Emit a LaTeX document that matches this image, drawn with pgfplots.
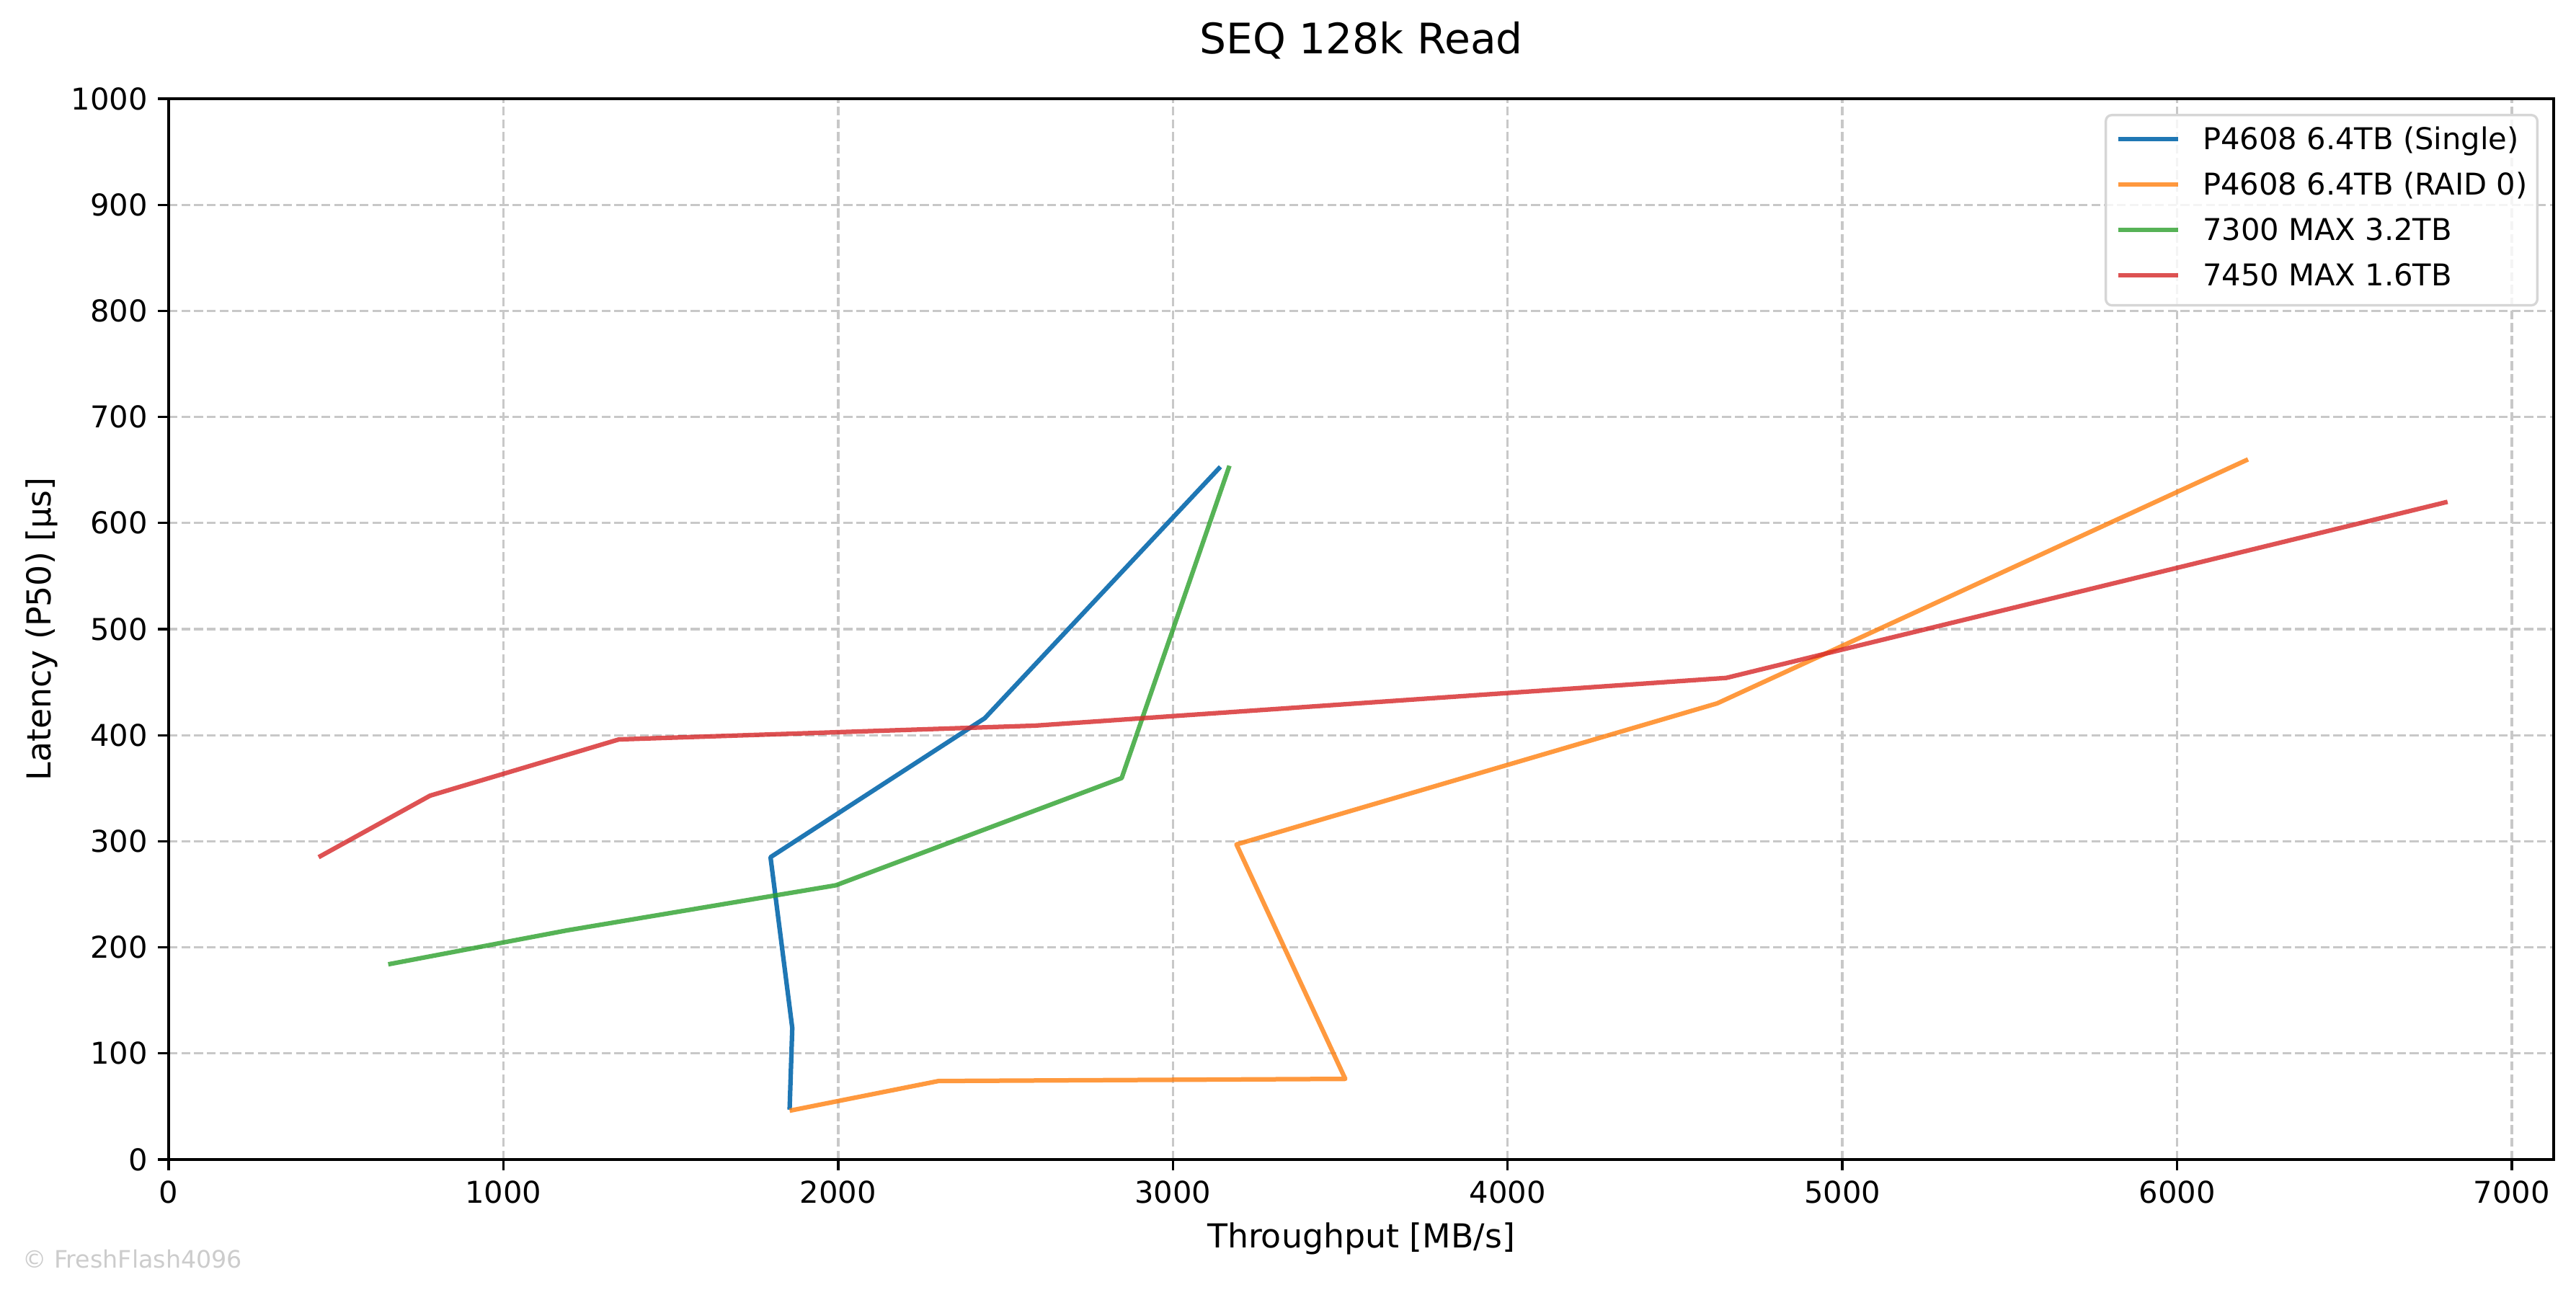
\documentclass[border=0pt]{standalone}
\usepackage{fontspec}
\setmainfont{DejaVu Sans}
\usepackage{pgfplots}
\pgfplotsset{compat=1.18}
\definecolor{c1}{HTML}{1F77B4}
\definecolor{c2}{HTML}{FF7F0E}
\definecolor{c3}{HTML}{2CA02C}
\definecolor{c4}{HTML}{D62728}
\definecolor{gridc}{HTML}{C8C8C8}
\begin{document}
\begin{tikzpicture}
\useasboundingbox (0,0) rectangle (857.76pt,431.28pt);
\begin{axis}[
  at={(56.16pt,45.12pt)}, anchor=south west,
  width=794.16pt, height=353.28pt, scale only axis,
  xmin=0, xmax=7125, ymin=0, ymax=1000,
  xtick={0,1000,...,7000}, ytick={0,100,...,1000},
  scaled x ticks=false, scaled y ticks=false,
  /pgf/number format/1000 sep={},
  /pgf/number format/assume math mode=true,
  xtick pos=bottom, ytick pos=left,
  tick align=outside, major tick length=3.5pt,
  tick style={black, line width=0.8pt},
  axis line style={black, line width=0.8pt},
  grid=major,
  major grid style={gridc, line width=0.8pt, dash pattern=on 2.96pt off 1.28pt},
  ticklabel style={font=\fontsize{10}{12}\selectfont},
  title={SEQ 128k Read},
  title style={font=\fontsize{14}{16.8}\selectfont, at={(axis description cs:0.5,1.0258)}, anchor=base},
  xlabel={Throughput [MB/s]},
  ylabel={Latency (P50) [µs]},
  label style={font=\fontsize{11}{13.2}\selectfont},
  xlabel style={at={(axis description cs:0.5,-0.08336)}, anchor=base},
  ylabel style={at={(axis description cs:-0.04936,0.5)}, anchor=base},
  legend cell align=left,
  legend style={at={(axis description cs:1,1)}, anchor=north east,
    xshift=-5.04pt, yshift=-5.04pt,
    draw=black!16, line width=0.8pt, fill=white, fill opacity=0.8, text opacity=1,
    rounded corners=2pt, inner xsep=3.3pt, inner ysep=4pt,
    row sep=5.12pt, column sep=7.5pt,
    font=\fontsize{10}{12}\selectfont,
    nodes={inner sep=0pt, text height=7.6pt, text depth=2.4pt}},
  legend image code/.code={\draw[#1, line width=1.5pt, line cap=butt] (0pt,1.05pt) -- (20pt,1.05pt);},
  every axis plot/.append style={line width=1.5pt, line join=round},
]
\addplot[c1] coordinates {(1855,47) (1863,124) (1798,285) (2438,416) (3142,653)};
\addlegendentry{P4608 6.4TB (Single)}
\addplot[c2, opacity=0.8] coordinates {(1855,46) (2300,74) (3515,76) (3190,297) (4626,430) (6212,660)};
\addlegendentry{P4608 6.4TB (RAID 0)}
\addplot[c3, opacity=0.8] coordinates {(656,184) (1190,216) (1993,258.5) (2847,359.6) (3169,654)};
\addlegendentry{7300 MAX 3.2TB}
\addplot[c4, opacity=0.8] coordinates {(448,285) (781,343) (1345,396) (2588,409) (4653,454) (6808,620)};
\addlegendentry{7450 MAX 1.6TB}
\end{axis}
\node[anchor=base west, inner sep=0pt, text=black!20, font=\fontsize{8}{9.6}\selectfont] at (7.3pt,9.05pt) {© FreshFlash4096};
\end{tikzpicture}
\end{document}
